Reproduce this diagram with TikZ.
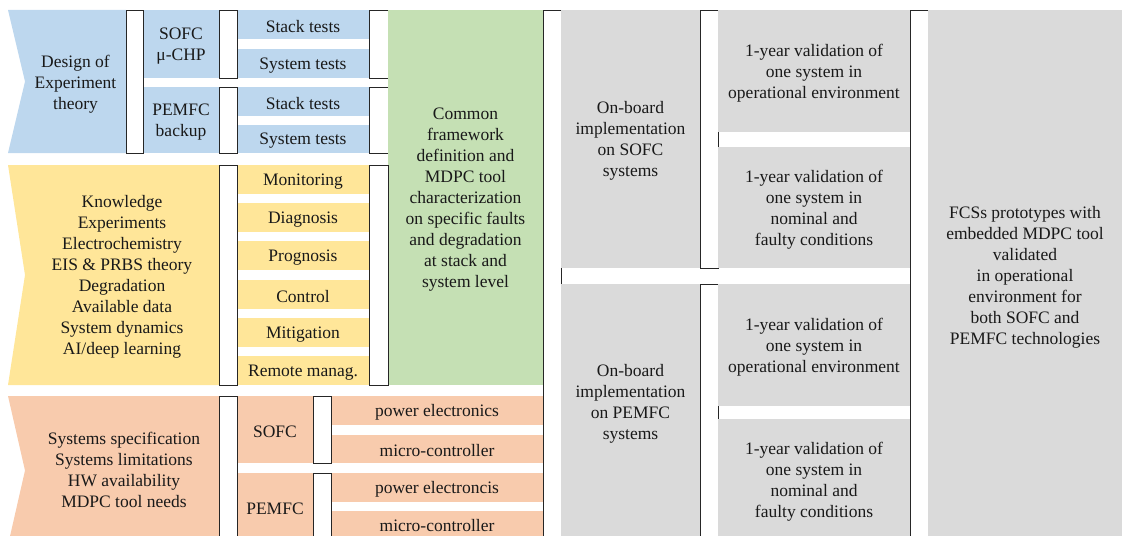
\documentclass[tikz,border=0pt]{standalone}
\usepackage{fontspec}
\setmainfont{Liberation Serif}
\usetikzlibrary{fit}
\definecolor{cblue}{RGB}{189,215,238}
\definecolor{cyellow}{RGB}{255,230,153}
\definecolor{cgreen}{RGB}{197,224,180}
\definecolor{corange}{RGB}{248,203,173}
\definecolor{cgrey}{RGB}{218,218,218}
\tikzset{
  txt/.style={align=center, inner sep=0pt, yshift=-2pt, font=\fontsize{17.5pt}{21pt}\selectfont, text=black!90},
  cellb/.style={draw=none, inner sep=0pt},
  wbar/.style={draw=black!85, line width=0.8pt, fill=white, inner sep=0pt},
}
\newcommand\myfill[6]{\node[cellb, fill=#2, fit={(#3,#4) (#5,#6)}] (#1) {};}
\newcommand\mycell[7]{\myfill{#1}{#2}{#3}{#4}{#5}{#6}\node[txt] (#1t) at (#1.center) {#7};}
\newcommand\mybar[5]{\node[wbar, fit={(#2,#3) (#4,#5)}] (#1) {};}
\begin{document}
\begin{tikzpicture}[x=1pt, y=-1pt]
\useasboundingbox (0,0) rectangle (1123,535);
\clip (0,0) rectangle (1123,535);

% ---------- blue band ----------
\fill[cblue] (8,10) -- (126,10) -- (126,153) -- (8,153) -- (25,81.5) -- cycle;
\node[txt] (doe) at (75.5,82) {Design of\\Experiment\\theory};
\mycell{sofcchp}{cblue}{143}{10}{219}{78}{SOFC\\μ-CHP}
\mycell{pemfcbk}{cblue}{143}{87}{219}{153}{PEMFC\\backup}
\mycell{st1}{cblue}{237}{10}{369}{39}{Stack tests}
\mycell{sy1}{cblue}{237}{49}{369}{78}{System tests}
\mycell{st2}{cblue}{237}{87}{369}{116}{Stack tests}
\mycell{sy2}{cblue}{237}{125}{369}{153}{System tests}
\mybar{b1}{126}{10}{143}{153}
\mybar{b2a}{219}{10}{237}{78}
\mybar{b2b}{219}{87}{237}{153}
\mybar{b3a}{369}{10}{388}{78}
\mybar{b3b}{369}{87}{388}{153}

% ---------- green ----------
\mycell{common}{cgreen}{388}{10}{543}{385}{Common\\framework\\definition and\\MDPC tool\\characterization\\on specific faults\\and degradation\\at stack and\\system level}

% ---------- yellow band ----------
\fill[cyellow] (8,165) -- (219,165) -- (219,385) -- (8,385) -- (25,275) -- cycle;
\node[txt] (know) at (122,275) {Knowledge\\Experiments\\Electrochemistry\\EIS \& PRBS theory\\Degradation\\Available data\\System dynamics\\AI/deep learning};
\mycell{mon}{cyellow}{237}{165}{369}{194}{Monitoring}
\mycell{dia}{cyellow}{237}{203.2}{369}{232.2}{Diagnosis}
\mycell{pro}{cyellow}{237}{241.4}{369}{270.4}{Prognosis}
\mycell{con}{cyellow}{237}{279.6}{369}{308.6}{Control}
\mycell{mit}{cyellow}{237}{317.8}{369}{346.8}{Mitigation}
\mycell{rem}{cyellow}{237}{356}{369}{385}{Remote manag.}
\mybar{b4}{219}{165}{237}{385}
\mybar{b5}{369}{165}{388}{385}

% ---------- orange band ----------
\fill[corange] (8,396) -- (219,396) -- (219,545) -- (8,545) -- (25,470.5) -- cycle;
\node[txt] (spec) at (124,468) {Systems specification\\Systems limitations\\HW availability\\MDPC tool needs};
\mycell{sofc}{corange}{237}{396}{313}{463}{SOFC}
\mycell{pemfc}{corange}{237}{473}{313}{540}{PEMFC}
\mycell{pe1}{corange}{331}{396}{543}{425}{power electronics}
\mycell{mc1}{corange}{331}{435}{543}{463}{micro-controller}
\mycell{pe2}{corange}{331}{473}{543}{502}{power electroncis}
\myfill{mc2}{corange}{331}{511}{543}{540}
\node[txt] (mc2t) at (437,523.5) {micro-controller};
\mybar{b6}{219}{396}{237}{545}
\mybar{b7a}{313}{396}{331}{463}
\mybar{b7b}{313}{473}{331}{545}

% ---------- grey columns ----------
\mybar{b8}{543}{10}{561}{545}
\mycell{obsofc}{cgrey}{561}{10}{700}{268}{On-board\\implementation\\on SOFC\\systems}
\myfill{obpem}{cgrey}{561}{284}{700}{540}
\node[txt] (obpemtxt) at (630.5,402) {On-board\\implementation\\on PEMFC\\systems};
\mybar{b9a}{700}{10}{718}{268}
\mybar{b9b}{700}{284}{718}{545}
\mycell{v1}{cgrey}{718}{10}{910}{132}{1-year validation of\\one system in\\operational environment}
\mycell{v2}{cgrey}{718}{147}{910}{268}{1-year validation of\\one system in\\nominal and\\faulty conditions}
\mycell{v3}{cgrey}{718}{284}{910}{406}{1-year validation of\\one system in\\operational environment}
\mycell{v4}{cgrey}{718}{419}{910}{540}{1-year validation of\\one system in\\nominal and\\faulty conditions}
\mybar{b10}{910}{10}{928}{545}
\mycell{fcs}{cgrey}{928}{10}{1122}{540}{FCSs prototypes with\\embedded MDPC tool\\validated\\in operational\\environment for\\both SOFC and\\PEMFC technologies}
\end{tikzpicture}
\end{document}
